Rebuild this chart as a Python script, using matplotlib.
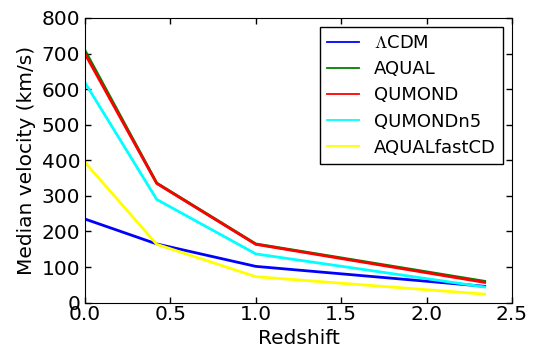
import matplotlib
matplotlib.use("Agg")
import matplotlib.pyplot as plt

# values
redshift = [0.0, 0.42, 1.0, 2.34]
lcdm = [235, 165, 102, 46]
aqual = [708, 336, 165, 60]
qumond = [699, 335, 164, 57]
qumond_n5 = [618, 290, 137, 44]
aqual_fast_cd = [394, 164, 73, 24]

labels = [r"$\Lambda$CDM", "AQUAL", "QUMOND", "QUMONDn5", "AQUALfastCD"]
series = [lcdm, aqual, qumond, qumond_n5, aqual_fast_cd]
colors = ["blue", "green", "red", "cyan", "yellow"]

plt.rcParams["xtick.direction"] = "in"
plt.rcParams["ytick.direction"] = "in"
plt.rcParams["xtick.top"] = True
plt.rcParams["ytick.right"] = True
plt.rcParams["font.size"] = 14.5
plt.rcParams["mathtext.fontset"] = "cm"

fig = plt.figure(figsize=(5.36, 3.47), dpi=100)
ax = fig.add_axes([0.1586, 0.1277, 0.7966, 0.8207])

for vals, lab, col in zip(series, labels, colors):
    ax.plot(redshift, vals, color=col, lw=2, label=lab)

ax.set_xlim(0, 2.5)
ax.set_ylim(0, 800)
ax.set_xticks([0.0, 0.5, 1.0, 1.5, 2.0, 2.5])
ax.set_yticks(range(0, 801, 100))
ax.tick_params(length=4, width=1)
ax.tick_params(axis="x", pad=2)
ax.tick_params(axis="y", pad=3.5)
ax.set_xlabel("Redshift", labelpad=3)
ax.set_ylabel("Median velocity (km/s)", labelpad=4)

leg = ax.legend(loc="upper right", fontsize=13, fancybox=False, framealpha=1,
                edgecolor="black", handlelength=1.8, borderaxespad=0.5,
                labelspacing=0.45)
for h in leg.get_lines():
    h.set_linewidth(1.3)

fig.savefig("out.png", dpi=100, facecolor="white")
